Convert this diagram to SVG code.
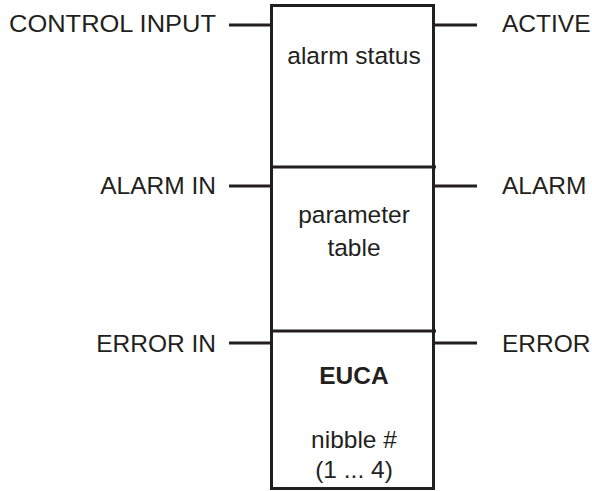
<svg xmlns="http://www.w3.org/2000/svg" width="592" height="491" viewBox="0 0 592 491">
<style>
text{font-family:"Liberation Sans",Arial,sans-serif;font-size:24.5px;fill:#231f20}
.l{text-anchor:end}.m{text-anchor:middle}.b{font-weight:bold}
.s{stroke:#231f20;stroke-width:3;fill:none}
</style>
<rect width="592" height="491" fill="#fff"/>
<g id="block">
<rect class="s" x="271.5" y="5.5" width="162" height="483"/>
<line class="s" x1="271.5" y1="167" x2="436" y2="167"/>
<line class="s" x1="271.5" y1="331" x2="436" y2="331"/>
</g>
<g id="alarm-status"><text class="m" x="354" y="64">alarm status</text></g>
<g id="parameter-table"><text class="m" x="354" y="223">parameter</text><text class="m" x="354" y="256">table</text></g>
<g id="euca"><text class="m b" x="354" y="384">EUCA</text><text class="m" x="354" y="448">nibble #</text><text class="m" x="354" y="478">(1 ... 4)</text></g>
<g id="connectors">
<line class="s" x1="229" y1="25" x2="271" y2="25"/>
<line class="s" x1="229" y1="186" x2="271" y2="186"/>
<line class="s" x1="229" y1="343" x2="271" y2="343"/>
<line class="s" x1="434" y1="25" x2="477" y2="25"/>
<line class="s" x1="434" y1="186" x2="477" y2="186"/>
<line class="s" x1="434" y1="343" x2="477" y2="343"/>
</g>
<g id="labels">
<text x="9" y="32" textLength="207" lengthAdjust="spacingAndGlyphs">CONTROL INPUT</text>
<text class="l" x="216" y="194">ALARM IN</text>
<text class="l" x="216" y="352">ERROR IN</text>
<text x="502" y="32">ACTIVE</text>
<text x="502" y="194">ALARM</text>
<text x="502" y="352">ERROR</text>
</g>
</svg>
